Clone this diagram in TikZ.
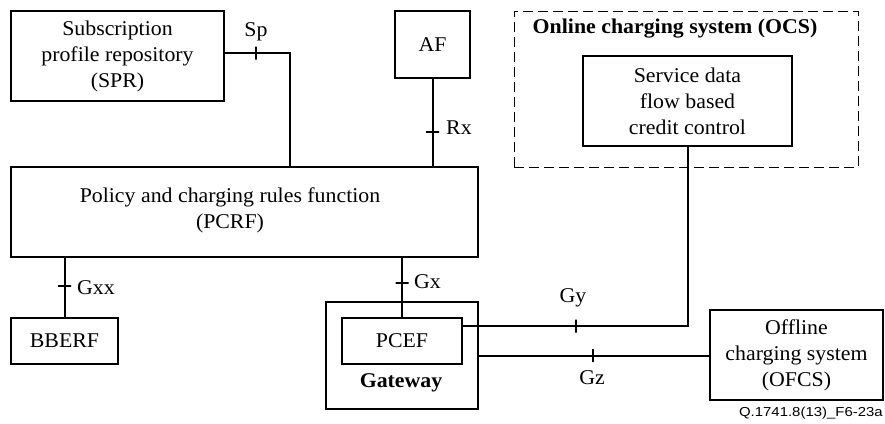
\documentclass[tikz,border=0pt]{standalone}
\usepackage{fontspec}
\setmainfont[FakeStretch=1.04]{Liberation Serif}
\newfontfamily\capfont[FakeStretch=1.15]{Liberation Sans}
\begin{document}
\begin{tikzpicture}[x=1pt,y=-1pt,
  every node/.style={font=\fontsize{21}{26}\selectfont},
  box/.style={draw, line width=2pt, inner sep=0pt, align=center},
  conn/.style={line width=2pt},
  tickmark/.style={draw, line width=2pt, minimum width=0pt, minimum height=13pt, inner sep=0pt, sloped, shape=rectangle},
  lbl/.style={inner sep=0pt},
  boldlbl/.style={inner sep=0pt, font=\fontsize{21}{26}\selectfont\bfseries},
]
\useasboundingbox (0,0) rectangle (885,423);

% boxes
\node[box, minimum width=213pt, minimum height=90pt] (SPR) at (117.5,56) {Subscription\\profile repository\\(SPR)};
\node[box, minimum width=75pt, minimum height=67pt] (AF) at (432.5,44.5) {AF};
\node[box, minimum width=467pt, minimum height=90pt] (PCRF) at (244.5,212) {};
\node[lbl, align=center] (pcrft) at (230,210) {Policy and charging rules function\\(PCRF)};

\node[draw, dash pattern=on 10pt off 5pt, line width=0.8pt, minimum width=344pt, minimum height=156pt, inner sep=0pt] (OCS) at (686,89) {};
\node[boldlbl] (ocst) at (675,29) {Online charging system (OCS)};
\node[box, minimum width=209pt, minimum height=90pt] (SDF) at (687.5,101) {Service data\\flow based\\credit control};

\node[box, minimum width=107pt, minimum height=46pt] (BBERF) at (64.5,341) {BBERF};
\node[box, minimum width=152pt, minimum height=107pt] (GW) at (402,355.5) {};
\node[boldlbl] (gwt) at (401,383) {Gateway};
\node[box, minimum width=120pt, minimum height=46pt] (PCEF) at (402,341) {PCEF};
\node[box, minimum width=173pt, minimum height=90pt] (OFCS) at (796.5,355) {Offline\\charging system\\(OFCS)};

\node[inner sep=0pt, anchor=east, font=\capfont\fontsize{13}{15}\selectfont] (cap) at (883,413) {Q.1741.8(13)\_F6-23a};

% connectors
\draw[conn] ([yshift=3pt]SPR.east) -| node[tickmark, pos=0.235] (t1) {} ([xshift=45.5pt]PCRF.north);
\draw[conn] (AF.south) -- node[tickmark, pos=0.607] (t2) {} (AF.south |- PCRF.north);
\draw[conn] (BBERF.north) -- node[tickmark, pos=0.525] (t3) {} (BBERF.north |- PCRF.south);
\draw[conn] (PCEF.north) -- node[tickmark, pos=0.57] (t4) {} (PCEF.north |- PCRF.south);
\draw[conn] ([yshift=15pt]PCEF.east) -| node[tickmark, pos=0.251] (t5) {} (SDF.south);
\draw[conn] (GW.east) -- node[tickmark, pos=0.496] (t6) {} (GW.east -| OFCS.west);

% interface labels
\node[lbl] (lsp) at (256,32) {Sp};
\node[lbl, anchor=west] (lrx) at (446,128) {Rx};
\node[lbl, anchor=west] (lgxx) at (77,288) {Gxx};
\node[lbl, anchor=west] (lgx) at (414,282) {Gx};
\node[lbl] (lgy) at (573,298) {Gy};
\node[lbl] (lgz) at (592,378) {Gz};
\end{tikzpicture}
\end{document}
